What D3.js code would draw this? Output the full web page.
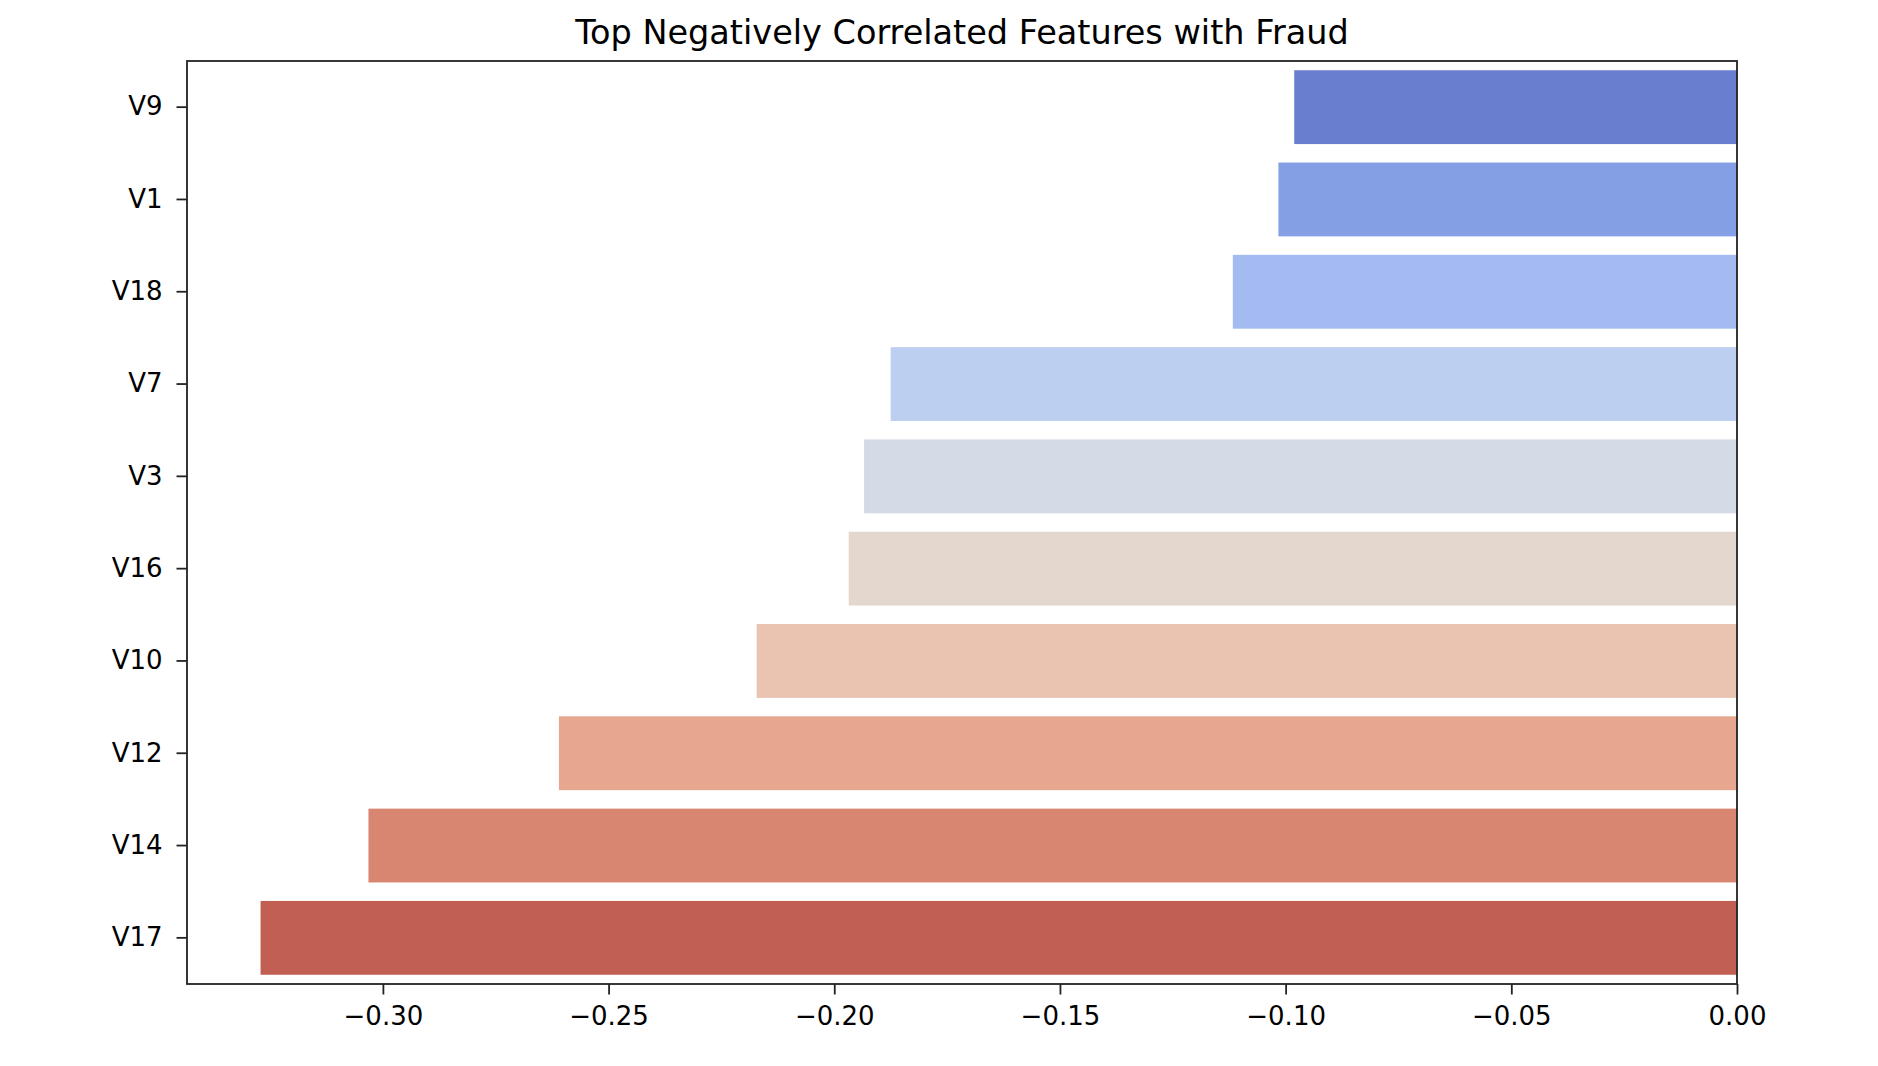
<!DOCTYPE html>
<html>
<head>
<meta charset="utf-8">
<script src="https://cdn.jsdelivr.net/npm/d3@7"></script>
<style>
  body { margin: 0; background: #fff; }
  svg { display: block; }
  text { font-family: "DejaVu Sans", sans-serif; fill: #000; }
</style>
</head>
<body>
<svg id="chart" width="1878" height="1066"></svg>
<script>
const features = ["V9", "V1", "V18", "V7", "V3", "V16", "V10", "V12", "V14", "V17"];
const correlations = [-0.0981, -0.1016, -0.1117, -0.1875, -0.1934, -0.1968, -0.2172, -0.2610, -0.3032, -0.3271];
const barColors = ["#6a7ed0", "#849fe3", "#a3bbf1", "#bdcff0", "#d5dbe6", "#e4d7ce", "#eac4b0", "#e7a78e", "#d88671", "#c05f52"];
const xTicks = [-0.30, -0.25, -0.20, -0.15, -0.10, -0.05, 0.00];
const title = "Top Negatively Correlated Features with Fraud";

const margin = {left: 187, right: 1878 - 1737, top: 61, bottom: 1066 - 984};
const W = 1878, H = 1066;
const svg = d3.select("#chart");

const x = d3.scaleLinear().domain([-0.3434, 0]).range([margin.left, W - margin.right]);
const y = d3.scaleBand().domain(features).range([margin.top, H - margin.bottom]).paddingInner(0.2).paddingOuter(0.1);

svg.append("g").selectAll("rect").data(features).join("rect")
  .attr("x", (d, i) => x(correlations[i]))
  .attr("y", d => y(d))
  .attr("width", (d, i) => x(0) - x(correlations[i]))
  .attr("height", y.bandwidth())
  .attr("fill", (d, i) => barColors[i]);

// frame
svg.append("rect")
  .attr("x", margin.left).attr("y", margin.top)
  .attr("width", W - margin.right - margin.left)
  .attr("height", H - margin.bottom - margin.top)
  .attr("fill", "none").attr("stroke", "#222").attr("stroke-width", 1.8);

const fmt = v => (v < 0 ? "\u2212" : "") + Math.abs(v).toFixed(2);
const xAxis = svg.append("g").attr("transform", `translate(0,${H - margin.bottom})`)
  .call(d3.axisBottom(x).tickValues(xTicks).tickFormat(fmt).tickSize(10.5).tickPadding(12));
const yAxis = svg.append("g").attr("transform", `translate(${margin.left},0)`)
  .call(d3.axisLeft(y).tickSize(10.5).tickPadding(14));
[xAxis, yAxis].forEach(a => {
  a.select(".domain").remove();
  a.selectAll(".tick line").attr("stroke", "#222").attr("stroke-width", 1.8);
  a.selectAll(".tick text").style("font-family", "'DejaVu Sans', sans-serif").style("font-size", "26px").attr("fill", "#222");
});

svg.append("text")
  .attr("x", (margin.left + W - margin.right) / 2)
  .attr("y", 43.5)
  .attr("text-anchor", "middle")
  .style("font-size", "33.5px")
  .attr("fill", "#222")
  .text(title);
</script>
</body>
</html>
